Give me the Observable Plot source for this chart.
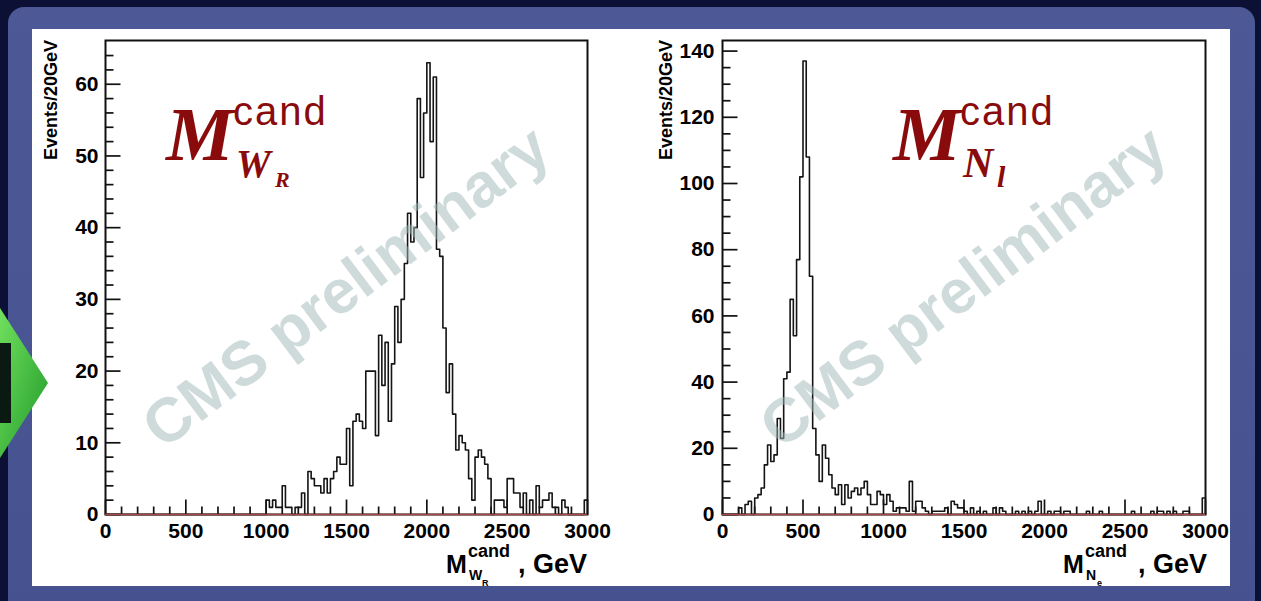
<!DOCTYPE html>
<html><head><meta charset="utf-8">
<script src="https://cdn.jsdelivr.net/npm/d3@7"></script>
<script src="https://cdn.jsdelivr.net/npm/@observablehq/plot@0.6"></script>
<style>
html,body{margin:0;padding:0;}
body{width:1261px;height:601px;overflow:hidden;background:#0b1034;position:relative;font-family:"Liberation Sans",Arial,sans-serif;}
#slate{position:absolute;left:8px;top:7px;width:1247px;height:640px;border-radius:16px;background:linear-gradient(180deg,#4d5997,#46528f);}
#white{position:absolute;left:32px;top:29px;width:1198px;height:557px;background:#fff;}
#arrow{position:absolute;left:0;top:298px;}
.plot{position:absolute;top:0;height:600px;}
.plot svg [aria-label$="tick label"] text{font-weight:bold;}
</style></head>
<body>
<div id="slate"></div>
<div id="white"></div>
<svg id="arrow" width="60" height="170">
  <defs><linearGradient id="ag" x1="0" y1="0" x2="1" y2="1"><stop offset="0" stop-color="#72e05e"/><stop offset="1" stop-color="#1f9a2a"/></linearGradient></defs>
  <polygon points="0,10 48,85 0,160" fill="url(#ag)"/>
  <rect x="0" y="45" width="11" height="80" fill="#0a1a12"/>
</svg>
<div id="left" class="plot" style="left:0;width:620px"></div>
<div id="right" class="plot" style="left:620px;width:641px"></div>
<script>
// ---- data ----
const binWidth = 20; // GeV per bin
const xMajor = [0, 500, 1000, 1500, 2000, 2500, 3000];
const yMajorW = [0, 10, 20, 30, 40, 50, 60];
const yMajorN = [0, 20, 40, 60, 80, 100, 120, 140];

// Events/20GeV, M_WR candidate (bins 0..2980 GeV)
const wrCounts = [
  0,0,0,0,0,0,0,0,0,0, 0,0,0,0,0,0,0,0,0,0,
  0,0,0,0,0,0,0,0,0,0, 0,0,0,0,0,0,0,0,0,0,
  0,0,0,0,0,0,0,0,0,0,
  2,1,2,1,1,4,1,1,0,1,
  1,3,0,6,5,4,4,3,5,3,
  5,6,8,7,7,12,4,13,14,13,
  12,20,20,20,11,25,18,24,13,21,
  29,24,30,35,42,38,40,58,47,56,
  63,52,61,37,36,26,17,21,14,9,
  11,10,9,5,2,8,9,8,7,5,
  0,2,2,2,1,5,5,3,3,1,
  3,0,2,0,4,1,2,2,3,1,
  1,0,2,1,0,0,0,0,0,2
];

// Events/20GeV, M_N candidate (bins 0..2980 GeV)
const nCounts = [
  0,0,0,0,0,2,0,3,4,0,
  5,6,8,15,21,16,18,29,23,41,
  43,65,54,77,102,137,108,72,26,18,
  10,21,17,12,8,6,9,3,9,5,
  7,8,6,8,10,6,3,3,7,6,
  3,6,4,1,2,2,2,1,10,1,
  4,4,2,1,0,1,1,1,1,2,
  0,4,3,2,2,1,0,2,0,1,
  0,1,0,0,2,0,2,1,0,0,
  0,1,0,1,0,1,0,1,4,0,
  0,1,0,1,1,0,1,1,0,0,
  0,0,0,1,0,0,0,1,0,0,
  0,0,0,0,0,0,0,1,0,0,
  0,0,0,1,0,1,1,0,1,0,
  1,0,0,1,1,0,0,0,0,5
];

const xMinor = [100,200,300,400,600,700,800,900,1100,1200,1300,1400,1600,1700,1800,1900,2100,2200,2300,2400,2600,2700,2800,2900];
const yMinorW = [2,4,6,8,12,14,16,18,22,24,26,28,32,34,36,38,42,44,46,48,52,54,56,58,62,64];
const yMinorN = [5,10,15,25,30,35,45,50,55,65,70,75,85,90,95,105,110,115,125,130,135];

const H = 600, MT = 40, MB = 86, XMAX = 3000;
const ink = "#111";

function histPlot({counts, yMax, yMajor, yMinor, width, ml, mr, tickPad}) {
  const rows = counts.map((v, i) => ({x: i * binWidth, y: v}));
  rows.push({x: counts.length * binWidth, y: counts[counts.length - 1]});
  const fh = H - MT - MB, fw = width - ml - mr;
  const ty = px => px * yMax / fh;   // tick length in pixels -> y units
  const tx = px => px * XMAX / fw;   // tick length in pixels -> x units
  const xMaj = xMajor.map(v => ({v, l: ty(15)}));
  const xMin = xMinor.map(v => ({v, l: ty(8)}));
  const yMaj = yMajor.map(v => ({v, l: tx(15)}));
  const yMin = yMinor.map(v => ({v, l: tx(8)}));
  return Plot.plot({
    width, height: H,
    marginLeft: ml, marginRight: mr, marginTop: MT, marginBottom: MB,
    x: {domain: [0, XMAX]},
    y: {domain: [0, yMax]},
    style: {background: "transparent", fontFamily: "'Liberation Sans', Arial, sans-serif", color: "#000"},
    marks: [
      Plot.link(xMaj.concat(xMin), {x1: "v", x2: "v", y1: () => 0, y2: "l", stroke: ink, strokeWidth: 1.7}),
      Plot.link(yMaj.concat(yMin), {y1: "v", y2: "v", x1: () => 0, x2: "l", stroke: ink, strokeWidth: 1.7}),
      Plot.line(rows, {x: "x", y: "y", curve: "step-after", stroke: "#141414", strokeWidth: 1.6}),
      Plot.frame({stroke: ink, strokeWidth: 2}),
      Plot.ruleY([0], {stroke: "#a84545", strokeWidth: 1.4}),
      Plot.axisX({ticks: xMajor, tickSize: 0, tickPadding: 9, fontSize: 21, tickFormat: d => String(d), label: null}),
      Plot.axisY({ticks: yMajor, tickSize: 0, tickPadding: tickPad, fontSize: 21, tickFormat: d => String(d), label: null}),
      Plot.text(["CMS preliminary"], {frameAnchor: "middle", rotate: -37, fontSize: 62, fontWeight: "bold",
        fill: "#9fb8b8", fillOpacity: 0.5, dy: 10})
    ]
  });
}

function addTexts(svg, items) {
  const s = d3.select(svg).append("g");
  for (const t of items) {
    const el = s.append("text")
      .attr("x", t.x).attr("y", t.y)
      .attr("font-family", t.ff || "'Liberation Sans', Arial, sans-serif")
      .attr("font-size", t.fs)
      .attr("font-weight", t.fw || "bold")
      .attr("font-style", t.st || "normal")
      .attr("fill", t.fill || "#000")
      .attr("text-anchor", t.anchor || "start")
      .text(t.s);
    if (t.ls) el.attr("letter-spacing", t.ls);
    if (t.rot) el.attr("transform", `rotate(${t.rot},${t.x},${t.y})`);
  }
}

const red = "#8a0b0b";
const serif = "'Liberation Serif', 'Times New Roman', serif";

const left = histPlot({counts: wrCounts, yMax: 66.1, yMajor: yMajorW, yMinor: yMinorW, width: 620, ml: 105, mr: 33, tickPad: 7});
addTexts(left, [
  {s: "Events/20GeV", x: 57, y: 40, fs: 18, anchor: "end", rot: -90},
  {s: "M", x: 166, y: 160, fs: 76, ff: serif, st: "italic", fill: red},
  {s: "cand", x: 233, y: 125, fs: 40, fw: "normal", fill: red, ls: 2},
  {s: "W", x: 236, y: 177, fs: 39, ff: serif, st: "italic", fill: red},
  {s: "R", x: 275, y: 187, fs: 22, ff: serif, st: "italic", fill: red},
  {s: "M", x: 446, y: 573, fs: 25},
  {s: "cand", x: 468, y: 557, fs: 18},
  {s: "W", x: 469, y: 580, fs: 14},
  {s: "R", x: 482, y: 586, fs: 9},
  {s: ", GeV", x: 587, y: 573, fs: 27, anchor: "end"}
]);
document.getElementById("left").appendChild(left);

const right = histPlot({counts: nCounts, yMax: 143.2, yMajor: yMajorN, yMinor: yMinorN, width: 641, ml: 102, mr: 56, tickPad: 8});
addTexts(right, [
  {s: "Events/20GeV", x: 52, y: 40, fs: 18, anchor: "end", rot: -90},
  {s: "M", x: 273, y: 160, fs: 76, ff: serif, st: "italic", fill: red},
  {s: "cand", x: 340, y: 125, fs: 40, fw: "normal", fill: red, ls: 2},
  {s: "N", x: 343, y: 177, fs: 42, ff: serif, st: "italic", fill: red},
  {s: "l", x: 377, y: 187, fs: 30, ff: serif, st: "italic", fill: red},
  {s: "M", x: 443, y: 573, fs: 25},
  {s: "cand", x: 465, y: 557, fs: 18},
  {s: "N", x: 466, y: 580, fs: 14},
  {s: "e", x: 477, y: 586, fs: 9},
  {s: ", GeV", x: 587, y: 573, fs: 27, anchor: "end"}
]);
document.getElementById("right").appendChild(right);
</script>
</body></html>
